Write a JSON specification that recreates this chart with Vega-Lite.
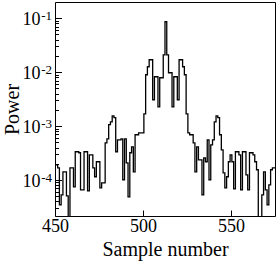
{
  "$schema": "https://vega.github.io/schema/vega-lite/v6.json",
  "width": 220,
  "height": 214,
  "autosize": "none",
  "padding": {"left": 55, "top": 2, "right": 3, "bottom": 48},
  "background": "white",
  "data": {"values": [
    {"n": 450, "p": 1.91e-4}, {"n": 451, "p": 1.91e-4}, {"n": 452, "p": 1.68e-4}, {"n": 453, "p": 3.47e-5},
    {"n": 454, "p": 5.31e-5}, {"n": 455, "p": 1.42e-4}, {"n": 456, "p": 1.42e-4}, {"n": 457, "p": 5.09e-5},
    {"n": 458, "p": 1.0e-5}, {"n": 459, "p": 1.68e-4}, {"n": 460, "p": 1.68e-4}, {"n": 461, "p": 7.48e-5},
    {"n": 462, "p": 3.34e-4}, {"n": 463, "p": 3.34e-4}, {"n": 464, "p": 3.2e-4}, {"n": 465, "p": 6.58e-5},
    {"n": 466, "p": 6.58e-5}, {"n": 467, "p": 3.34e-4}, {"n": 468, "p": 3.34e-4}, {"n": 469, "p": 6.3e-5},
    {"n": 470, "p": 2.93e-4}, {"n": 471, "p": 2.93e-4}, {"n": 472, "p": 1.68e-4}, {"n": 473, "p": 1.15e-4},
    {"n": 474, "p": 2.18e-4}, {"n": 475, "p": 2.18e-4}, {"n": 476, "p": 7.17e-5}, {"n": 477, "p": 8.87e-5},
    {"n": 478, "p": 8.87e-5}, {"n": 479, "p": 4.9e-4}, {"n": 480, "p": 5.81e-4}, {"n": 481, "p": 1.06e-3},
    {"n": 482, "p": 1.2e-3}, {"n": 483, "p": 1.55e-3}, {"n": 484, "p": 1.43e-3}, {"n": 485, "p": 3.34e-4},
    {"n": 486, "p": 5.57e-4}, {"n": 487, "p": 5.57e-4}, {"n": 488, "p": 5.81e-4}, {"n": 489, "p": 1.01e-4},
    {"n": 490, "p": 5.81e-4}, {"n": 491, "p": 2.08e-4}, {"n": 492, "p": 4.88e-5}, {"n": 493, "p": 3.2e-4},
    {"n": 494, "p": 4.13e-4}, {"n": 495, "p": 1.42e-4}, {"n": 496, "p": 6.9e-4}, {"n": 497, "p": 6.9e-4},
    {"n": 498, "p": 7.51e-4}, {"n": 499, "p": 7.51e-4}, {"n": 500, "p": 7.51e-4}, {"n": 501, "p": 1.69e-3},
    {"n": 502, "p": 8.95e-3}, {"n": 503, "p": 1.26e-2}, {"n": 504, "p": 1.7e-2}, {"n": 505, "p": 1.7e-2},
    {"n": 506, "p": 3.08e-3}, {"n": 507, "p": 8.22e-3}, {"n": 508, "p": 8.22e-3}, {"n": 509, "p": 2.28e-3},
    {"n": 510, "p": 7.87e-3}, {"n": 511, "p": 7.87e-3}, {"n": 512, "p": 2.1e-2}, {"n": 513, "p": 8.61e-2},
    {"n": 514, "p": 2.1e-2}, {"n": 515, "p": 9.75e-3}, {"n": 516, "p": 9.75e-3}, {"n": 517, "p": 2.28e-3},
    {"n": 518, "p": 8.22e-3}, {"n": 519, "p": 8.22e-3}, {"n": 520, "p": 3.08e-3}, {"n": 521, "p": 1.7e-2},
    {"n": 522, "p": 1.7e-2}, {"n": 523, "p": 1.26e-2}, {"n": 524, "p": 8.95e-3}, {"n": 525, "p": 1.69e-3},
    {"n": 526, "p": 7.51e-4}, {"n": 527, "p": 6.9e-4}, {"n": 528, "p": 6.9e-4}, {"n": 529, "p": 4.9e-4},
    {"n": 530, "p": 1.42e-4}, {"n": 531, "p": 4.13e-4}, {"n": 532, "p": 2.37e-4}, {"n": 533, "p": 2.37e-4},
    {"n": 534, "p": 5.31e-5}, {"n": 535, "p": 2.58e-4}, {"n": 536, "p": 2.18e-4}, {"n": 537, "p": 5.57e-4},
    {"n": 538, "p": 1.01e-4}, {"n": 539, "p": 4.5e-4}, {"n": 540, "p": 5.57e-4}, {"n": 541, "p": 1.2e-3},
    {"n": 542, "p": 1.55e-3}, {"n": 543, "p": 1.43e-3}, {"n": 544, "p": 6.9e-4}, {"n": 545, "p": 3.63e-4},
    {"n": 546, "p": 1.36e-4}, {"n": 547, "p": 7.17e-5}, {"n": 548, "p": 1.15e-4}, {"n": 549, "p": 2.18e-4},
    {"n": 550, "p": 2.93e-4}, {"n": 551, "p": 2.18e-4}, {"n": 552, "p": 6.87e-5}, {"n": 553, "p": 3.34e-4},
    {"n": 554, "p": 3.34e-4}, {"n": 555, "p": 2.93e-4}, {"n": 556, "p": 6.58e-5}, {"n": 557, "p": 3.34e-4},
    {"n": 558, "p": 3.34e-4}, {"n": 559, "p": 1.25e-4}, {"n": 560, "p": 6.58e-5}, {"n": 561, "p": 3.2e-4},
    {"n": 562, "p": 3.2e-4}, {"n": 563, "p": 2.93e-4}, {"n": 564, "p": 2.18e-4}, {"n": 565, "p": 1.55e-4},
    {"n": 566, "p": 1.0e-5}, {"n": 567, "p": 1.0e-5}, {"n": 568, "p": 5.31e-5}, {"n": 569, "p": 1.42e-4},
    {"n": 570, "p": 6.58e-5}, {"n": 571, "p": 3.47e-5}, {"n": 572, "p": 8.15e-5}, {"n": 573, "p": 1.55e-4},
    {"n": 574, "p": 1.68e-4}, {"n": 575, "p": 1.68e-4}
  ]},
  "config": {
    "view": {"stroke": "black", "strokeWidth": 1},
    "axis": {
      "labelFont": "Liberation Serif", "titleFont": "Liberation Serif",
      "labelColor": "black", "titleColor": "black", "tickColor": "black",
      "domain": false, "grid": false, "titleFontWeight": "normal", "tickWidth": 1
    }
  },
  "resolve": {"axis": {"y": "independent"}},
  "layer": [
    {
      "mark": {"type": "line", "interpolate": "step", "color": "black", "strokeWidth": 1.3, "clip": true},
      "encoding": {
        "x": {"field": "n", "type": "quantitative",
          "scale": {"domain": [450, 575], "nice": false, "zero": false},
          "axis": {"values": [450, 500, 550], "tickSize": -6, "labelFontSize": 18, "labelPadding": 7.5,
                   "labelFlush": false, "title": "Sample number", "titleFontSize": 20, "titlePadding": 4}},
        "y": {"field": "p", "type": "quantitative",
          "scale": {"type": "log", "domain": [2.15e-5, 0.2], "nice": false},
          "axis": {"orient": "left", "values": [0.0001, 0.001, 0.01, 0.1], "tickSize": -6.5,
                   "labelExpr": "'10'", "labelFontSize": 18, "labelPadding": 21.5, "labelOffset": 1.5,
                   "title": "Power", "titleFontSize": 20, "titlePadding": 0}}
      }
    },
    {
      "mark": {"type": "line", "interpolate": "step", "strokeOpacity": 0, "clip": true},
      "encoding": {
        "x": {"field": "n", "type": "quantitative"},
        "y": {"field": "p", "type": "quantitative",
          "axis": {"orient": "left", "values": [0.0001, 0.001, 0.01, 0.1], "ticks": false,
                   "labelExpr": "datum.value > 0.05 ? '-1' : datum.value > 0.005 ? '-2' : datum.value > 0.0005 ? '-3' : '-4'",
                   "labelFontSize": 13, "labelPadding": 3.5, "labelOffset": -2.5, "title": null}}
      }
    },
    {
      "mark": {"type": "line", "interpolate": "step", "strokeOpacity": 0, "clip": true},
      "encoding": {
        "x": {"field": "n", "type": "quantitative"},
        "y": {"field": "p", "type": "quantitative",
          "axis": {"orient": "left", "labels": false, "tickSize": -3.5, "title": null,
                   "values": [0.00003, 0.00004, 0.00005, 0.00006, 0.00007, 0.00008, 0.00009,
                              0.0002, 0.0003, 0.0004, 0.0005, 0.0006, 0.0007, 0.0008, 0.0009,
                              0.002, 0.003, 0.004, 0.005, 0.006, 0.007, 0.008, 0.009,
                              0.02, 0.03, 0.04, 0.05, 0.06, 0.07, 0.08, 0.09]}}
      }
    }
  ]
}
